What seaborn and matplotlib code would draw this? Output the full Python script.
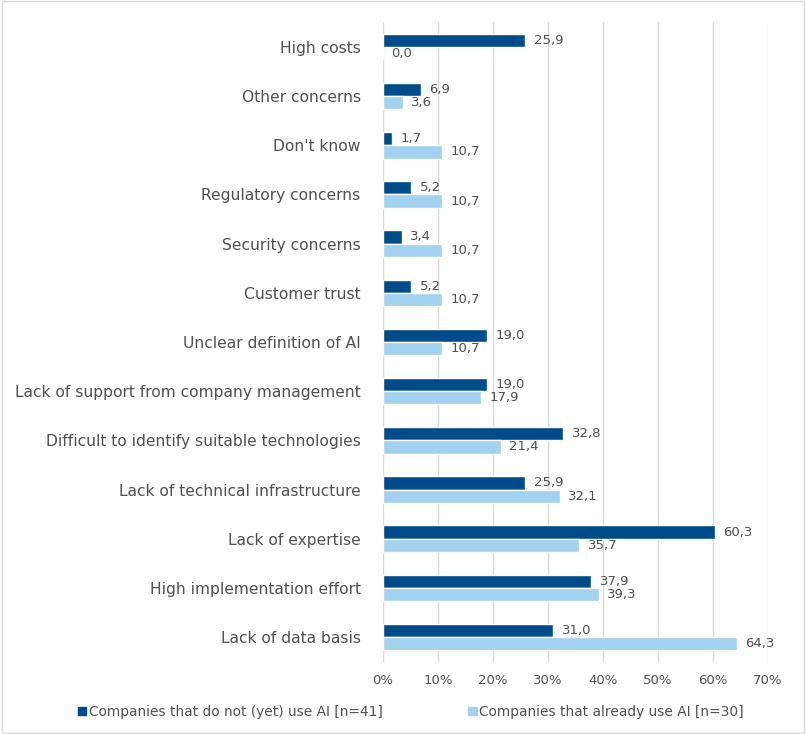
import matplotlib
matplotlib.use("Agg")
import matplotlib.pyplot as plt
import seaborn as sns
import pandas as pd
from matplotlib.patches import Rectangle

categories = [
    "High costs", "Other concerns", "Don't know", "Regulatory concerns",
    "Security concerns", "Customer trust", "Unclear definition of AI",
    "Lack of support from company management",
    "Difficult to identify suitable technologies",
    "Lack of technical infrastructure", "Lack of expertise",
    "High implementation effort", "Lack of data basis",
]
not_using = [25.9, 6.9, 1.7, 5.2, 3.4, 5.2, 19.0, 19.0, 32.8, 25.9, 60.3, 37.9, 31.0]
using = [0.0, 3.6, 10.7, 10.7, 10.7, 10.7, 10.7, 17.9, 21.4, 32.1, 35.7, 39.3, 64.3]
series = ["Companies that do not (yet) use AI [n=41]", "Companies that already use AI [n=30]"]
xticks = [0, 10, 20, 30, 40, 50, 60, 70]

df = pd.DataFrame({
    "category": categories * 2,
    "value": not_using + using,
    "series": [series[0]] * len(categories) + [series[1]] * len(categories),
})

sns.set_theme(style="white")
plt.rcParams["font.family"] = ["DejaVu Sans"]
text_col = "#505050"

fig = plt.figure(figsize=(8.06, 7.34), dpi=100)
ax = fig.add_axes([0.475, 0.0986, 0.478, 0.871])
palette = {series[0]: "#004C8A", series[1]: "#A3D1F0"}
sns.barplot(data=df, y="category", x="value", hue="series", orient="h",
            palette=palette, width=0.54, ax=ax, legend=False, saturation=1)

ax.set_xlim(0, 70)
ax.set_xticks(xticks)
ax.set_xticklabels([f"{t}%" for t in xticks], color=text_col, fontsize=9.5)
ax.tick_params(axis="y", labelsize=11.2, labelcolor=text_col, length=0, pad=16)
ax.tick_params(axis="x", length=0, pad=9)
ax.set_xlabel("")
ax.set_ylabel("")
ax.grid(axis="x", color="#D9D9D9", linewidth=1)
ax.set_axisbelow(True)
for s in ax.spines.values():
    s.set_visible(False)

for i, cont in enumerate(ax.containers):
    labels = [f"{v:.1f}".replace(".", ",") for v in cont.datavalues]
    ax.bar_label(cont, labels=labels, padding=6, fontsize=9.5, color=text_col)

handles = [Rectangle((0, 0), 1, 1, color=palette[s]) for s in series]
fig.legend(handles, series, loc="center", bbox_to_anchor=(0.51, 0.03), ncol=2,
           frameon=False, fontsize=9.9, handlelength=0.6, handleheight=0.6,
           handletextpad=0.2, columnspacing=6.2, labelcolor=text_col)

fig.patches.append(Rectangle((0.002, 0.002), 0.996, 0.996, transform=fig.transFigure,
                             fill=False, edgecolor="#D9D9D9", linewidth=1))
fig.savefig("out.png", dpi=100)
